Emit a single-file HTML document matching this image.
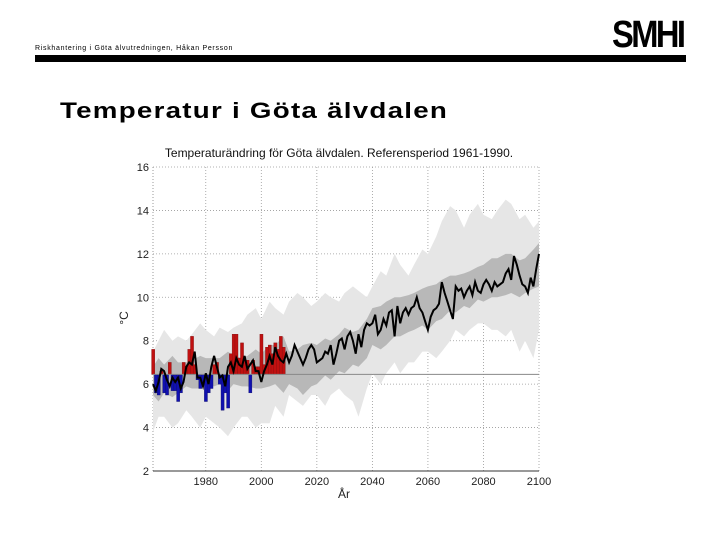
<!DOCTYPE html>
<html><head><meta charset="utf-8"><style>
body{margin:0;width:720px;height:540px;background:#fff;overflow:hidden;position:relative;font-family:"Liberation Sans",sans-serif}
.abs{position:absolute}
</style></head><body>
<div class="abs" style="left:35px;top:45px;font-size:7px;letter-spacing:0.7px;color:#000">Riskhantering i Göta älvutredningen, Håkan Persson</div>
<div class="abs" style="left:612px;top:14px;font-size:38px;font-weight:bold;letter-spacing:-3px;transform:scaleX(0.86);transform-origin:left;color:#000">SMHI</div>
<div class="abs" style="left:35px;top:55px;width:651px;height:7px;background:#000"></div>
<div class="abs" style="left:60px;top:98px;font-size:22px;font-weight:bold;letter-spacing:1px;transform:scaleX(1.26);transform-origin:left;color:#000;white-space:nowrap">Temperatur i Göta älvdalen</div>
<svg class="abs" style="left:0;top:0" width="720" height="540" id="chart"></svg>
<script>
const years=[];for(let y=1961;y<=2100;y++)years.push(y);
const meanTemp=[6.0,5.7,6.1,6.7,6.6,6.2,5.9,6.3,6.1,6.3,5.8,6.1,6.8,7.0,6.9,7.5,6.3,6.3,5.9,6.5,6.0,6.8,7.3,6.8,6.3,6.4,5.9,6.8,7.0,6.6,7.2,6.9,6.8,7.3,6.7,6.9,7.1,6.6,6.6,6.1,6.6,6.9,7.3,6.9,7.7,7.3,7.1,7.0,7.4,7.0,7.3,7.8,7.5,7.2,6.9,7.2,7.6,7.8,7.6,7.0,7.1,7.2,7.5,7.4,7.8,6.9,7.4,8.0,8.1,7.6,8.2,8.4,8.0,7.4,8.3,7.7,8.5,8.8,8.7,8.8,9.2,8.3,8.5,9.0,8.7,9.3,9.4,8.2,9.6,8.8,9.3,9.5,9.2,9.5,9.6,10.0,9.5,9.3,8.9,8.5,9.1,9.4,9.5,9.7,10.7,10.2,9.8,9.4,9.0,10.5,10.3,10.4,10.0,10.3,10.5,10.1,10.7,10.3,10.2,10.6,10.8,10.6,10.3,10.7,10.5,10.6,10.7,11.1,11.3,10.8,11.9,11.5,11.0,10.6,10.5,10.2,10.9,10.5,11.3,12.0];
const obsYears=[];for(let y=1961;y<=2008;y++)obsYears.push(y);
const obsTemp=[7.6,5.6,5.5,6.6,5.6,5.5,7.0,5.7,5.7,5.2,5.6,7.0,6.8,7.6,8.2,6.9,6.2,5.8,6.0,5.2,5.6,5.8,6.9,7.0,6.0,4.8,5.6,4.9,7.4,8.3,8.3,7.2,7.9,7.1,7.1,5.6,7.1,6.8,6.8,8.3,6.9,7.7,7.8,7.4,7.9,7.6,8.2,7.7];
const refValue=6.45;
const bandYears=[1961,1963,1965,1968,1970,1973,1975,1978,1980,1983,1985,1988,1990,1993,1995,1998,2000,2003,2005,2008,2010,2013,2015,2018,2020,2023,2025,2028,2030,2033,2035,2038,2040,2043,2045,2048,2050,2053,2055,2058,2060,2063,2065,2068,2070,2073,2075,2078,2080,2083,2085,2088,2090,2093,2095,2098,2100];
const outerLo=[3.8,4.5,4.5,4.0,4.2,4.8,4.5,4.0,4.5,4.2,4.0,3.6,4.0,4.5,4.5,4.0,4.2,4.2,5.0,4.5,5.5,5.2,5.0,5.5,5.5,5.0,5.5,5.8,5.5,5.2,4.5,5.8,6.5,6.0,6.5,7.0,6.5,7.0,7.0,7.5,7.5,7.2,7.5,8.0,8.5,8.2,8.5,8.8,8.8,8.5,8.5,8.2,8.5,7.5,8.0,7.2,8.5];
const outerHi=[7.5,8.0,8.5,8.0,8.2,8.0,8.3,8.8,8.5,8.2,8.6,8.4,8.6,8.8,9.2,9.5,9.0,9.8,9.5,9.2,9.8,10.2,10.0,9.6,9.8,10.2,10.0,9.8,10.2,10.5,10.3,10.0,10.5,11.2,11.0,12.0,11.5,11.0,11.5,12.2,12.0,12.8,13.5,14.2,14.0,13.2,13.8,14.3,13.8,13.6,14.0,14.5,14.3,13.6,13.8,13.2,13.5];
const innerLo=[5.5,5.2,5.6,5.4,5.6,5.9,5.8,5.8,6.0,5.9,6.0,5.7,6.0,5.9,5.9,5.8,5.8,5.9,6.0,5.6,6.0,5.8,5.5,5.9,6.0,6.4,6.2,6.6,6.5,6.9,6.8,7.2,7.8,7.6,7.8,8.2,8.2,8.4,8.5,8.7,8.5,8.9,9.0,9.4,9.3,9.6,9.5,9.9,9.8,10.0,10.0,10.1,10.2,10.0,10.2,10.4,10.5];
const innerHi=[6.8,7.2,6.9,7.3,7.0,7.0,7.1,7.3,7.2,7.2,7.2,7.5,7.3,7.2,7.3,7.6,7.4,7.8,7.8,8.2,7.5,7.6,7.8,7.9,7.8,8.1,8.0,8.3,8.6,8.4,8.5,9.0,9.5,9.6,9.8,10.0,10.0,10.1,10.2,10.4,10.5,10.6,10.8,11.0,11.0,11.1,11.2,11.4,11.5,11.8,11.8,12.0,12.0,11.7,11.8,12.2,12.5];
const yTicks=[2,4,6,8,10,12,14,16];
const xTicks=[1980,2000,2020,2040,2060,2080,2100];

const L=153,R=539,T=167,B=471,x0=1961,x1=2100,y0=2,y1=16;
const sx=v=>L+(v-x0)/(x1-x0)*(R-L);
const sy=v=>B-(v-y0)/(y1-y0)*(B-T);
const svg=document.getElementById('chart');const NS='http://www.w3.org/2000/svg';
function mk(t,a,p){const e=document.createElementNS(NS,t);for(const k in a)e.setAttribute(k,a[k]);(p||svg).appendChild(e);return e;}
function band(lo,hi,fill,name){let d='';bandYears.forEach((y,i)=>d+=(i?'L':'M')+sx(y)+' '+sy(hi[i]));for(let i=bandYears.length-1;i>=0;i--)d+='L'+sx(bandYears[i])+' '+sy(lo[i]);const e=mk('path',{d:d+'Z',fill:fill});

}
yTicks.forEach(v=>{const g=mk('line',{x1:L,x2:R,y1:sy(v),y2:sy(v),stroke:'#999','stroke-dasharray':'1 2','stroke-width':0.8});


const t=mk('text',{x:L-4,y:sy(v)+4,'text-anchor':'end','font-size':11,fill:'#222'});t.textContent=v;

});
xTicks.forEach(v=>{const g=mk('line',{x1:sx(v),x2:sx(v),y1:T,y2:B,stroke:'#999','stroke-dasharray':'1 2','stroke-width':0.8});


const t=mk('text',{x:sx(v),y:B+14,'text-anchor':'middle','font-size':11,fill:'#222'});t.textContent=v;

});
mk('line',{x1:L,x2:L,y1:T,y2:B,stroke:'#999','stroke-dasharray':'1 2'});
band(outerLo,outerHi,'#e6e6e6','outer-range-band');
band(innerLo,innerHi,'#b8b8b8','inner-range-band');
const bw=(R-L)/(x1-x0);
obsYears.forEach((y,i)=>{const v=obsTemp[i];const up=v>=refValue;const r=mk('rect',{x:sx(y)-bw/2,width:bw+0.3,y:sy(Math.max(v,refValue)),height:Math.abs(sy(v)-sy(refValue)),fill:up?'#c01010':'#1010b0',stroke:up?'#801010':'#10106a','stroke-width':0.4});

});
const rl=mk('line',{x1:L,x2:R,y1:sy(refValue),y2:sy(refValue),stroke:'#888','stroke-width':1});


let d='';years.forEach((y,i)=>d+=(i?'L':'M')+sx(y).toFixed(1)+' '+sy(meanTemp[i]).toFixed(1));
const ln=mk('path',{d:d,fill:'none',stroke:'#000','stroke-width':2});


const ax=mk('line',{x1:L,x2:R,y1:B,y2:B,stroke:'#333','stroke-width':1});


const tt=mk('text',{x:339,y:157,'text-anchor':'middle','font-size':12,fill:'#111'});tt.textContent='Temperaturändring för Göta älvdalen. Referensperiod 1961-1990.';


const xl=mk('text',{x:344,y:498,'text-anchor':'middle','font-size':12,fill:'#222'});xl.textContent='År';


const yl=mk('text',{x:128,y:318,'text-anchor':'middle','font-size':12,fill:'#222',transform:'rotate(-90 128 318)'});yl.textContent='°C';


</script>
</body></html>
